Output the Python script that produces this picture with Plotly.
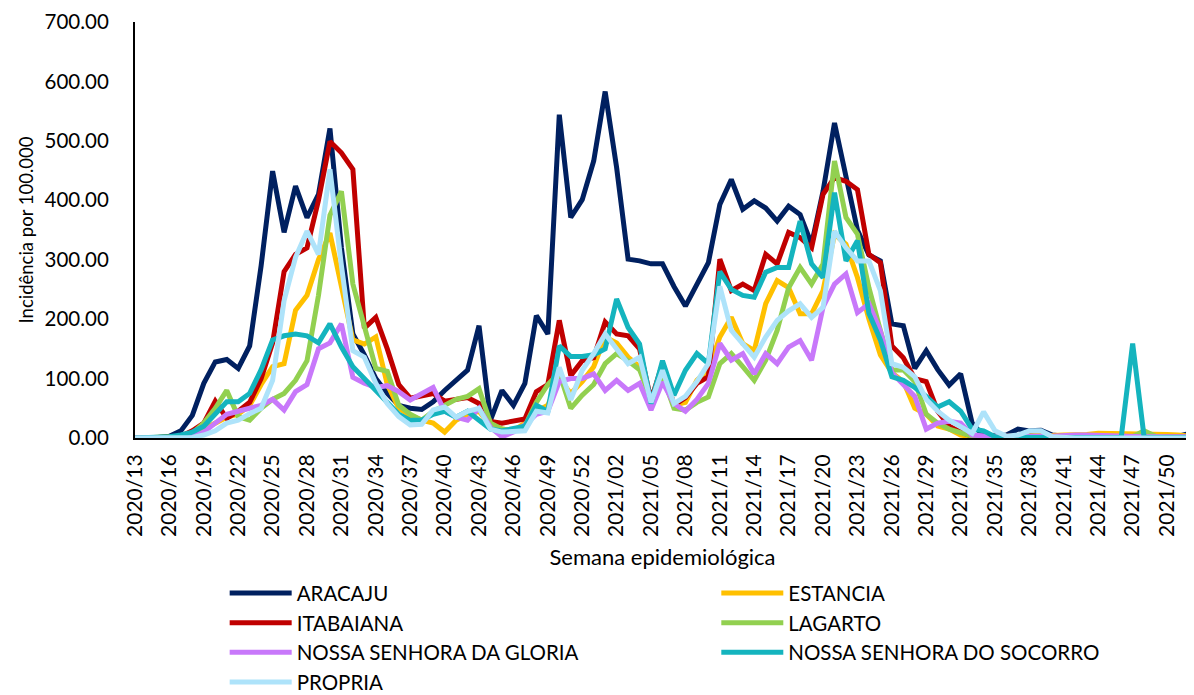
import plotly.graph_objects as go

# epidemiological weeks 2020/13 .. 2021/52
weeks = [f"2020/{w}" for w in range(13, 54)] + [f"2021/{w:02d}" for w in range(1, 53)]
tick_weeks = weeks[::3]

aracaju = [0, 0, 1, 3, 12, 38, 92, 128, 132, 117, 155, 290, 449, 346, 424, 371, 410, 521,
           320, 175, 140, 100, 75, 55, 50, 48, 61, 80, 97, 114, 189, 30, 80, 55, 92, 206,
           175, 544, 371, 401, 466, 583, 455, 301, 298, 293, 293, 255, 222, 258, 295, 393,
           435, 385, 399, 387, 365, 390, 376, 326, 415, 530, 438, 350, 308, 298, 192, 189,
           117, 147, 115, 89, 108, 25, 3, 3, 5, 15, 12, 13, 5, 3, 3, 3, 3, 3, 3, 3, 3, 3,
           3, 3, 8]
estancia = [0, 0, 0, 1, 2, 5, 15, 25, 35, 40, 55, 90, 120, 125, 215, 240, 300, 345,
            250, 165, 158, 170, 90, 50, 38, 30, 25, 10, 30, 40, 45, 20, 15, 12, 25, 45,
            55, 100, 75, 95, 120, 170, 160, 136, 120, 60, 120, 55, 60, 97, 115, 170,
            203, 159, 147, 226, 265, 253, 209, 209, 248, 343, 326, 270, 200, 140, 110, 95,
            50, 40, 20, 15, 5, 2, 2, 2, 3, 3, 4, 4, 4, 5, 5, 6, 8, 8, 8, 8, 8, 8,
            6, 5, 3]
itabaiana = [0, 0, 0, 1, 3, 12, 25, 62, 33, 45, 60, 100, 160, 280, 309, 320, 400, 499,
             480, 452, 185, 203, 150, 90, 67, 70, 75, 62, 65, 68, 58, 28, 25, 28, 32, 78,
             90, 198, 105, 130, 135, 195, 175, 172, 150, 64, 125, 55, 68, 92, 103, 301,
             248, 259, 248, 309, 293, 346, 337, 320, 410, 438, 432, 418, 309, 295, 155, 135,
             100, 95, 45, 20, 10, 3, 2, 3, 3, 3, 3, 3, 3, 3, 3, 3, 3, 3, 3, 3, 3, 3,
             3, 3, 2]
lagarto = [0, 0, 0, 0, 2, 8, 25, 50, 80, 36, 30, 50, 65, 75, 97, 130, 240, 375,
           415, 259, 186, 117, 112, 55, 40, 30, 45, 55, 65, 70, 83, 25, 15, 12, 20, 60,
           90, 110, 50, 72, 90, 125, 142, 130, 115, 65, 105, 50, 47, 60, 69, 125,
           142, 120, 97, 131, 181, 253, 287, 259, 293, 466, 371, 343, 253, 181, 114, 115,
           95, 40, 25, 15, 10, 3, 2, 2, 2, 2, 2, 2, 2, 2, 2, 2, 2, 2, 2, 2, 12, 3,
           2, 2, 2]
gloria = [0, 0, 0, 0, 1, 3, 10, 25, 40, 45, 50, 55, 65, 47, 78, 90, 150, 160,
          192, 102, 92, 85, 88, 78, 64, 75, 85, 45, 35, 30, 50, 18, 2, 10, 22, 40,
          45, 95, 100, 100, 108, 80, 97, 80, 92, 47, 94, 58, 45, 65, 92, 159,
          131, 142, 108, 142, 125, 153, 164, 131, 220, 259, 276, 211, 226, 180, 110, 90,
          70, 15, 25, 28, 25, 5, 3, 2, 2, 3, 3, 3, 3, 5, 5, 5, 4, 3, 3, 2, 2, 2,
          2, 2, 2]
socorro = [0, 0, 0, 2, 5, 10, 20, 40, 61, 61, 75, 115, 165, 172, 175, 172, 160, 192,
           153, 120, 100, 80, 60, 40, 30, 30, 40, 45, 35, 45, 30, 15, 12, 15, 20, 55,
           45, 155, 137, 137, 140, 150, 234, 186, 158, 58, 130, 72, 114, 142, 125, 280,
           250, 240, 237, 279, 287, 287, 365, 293, 270, 413, 298, 332, 210, 165, 103, 97,
           85, 70, 52, 61, 45, 15, 12, 2, 1, 1, 1, 1, 1, 1, 1, 1, 1, 1, 1, 159, 1, 1,
           1, 1, 1]
propria = [0, 0, 0, 0, 0, 1, 5, 12, 25, 30, 41, 50, 97, 231, 304, 348, 309, 452,
           290, 147, 136, 92, 58, 36, 22, 23, 47, 52, 35, 45, 50, 15, 10, 10, 12, 45,
           42, 119, 64, 114, 142, 175, 150, 125, 136, 60, 114, 58, 70, 95, 125, 255,
           181, 159, 136, 170, 198, 214, 226, 203, 220, 348, 320, 298, 298, 248, 125, 119,
           103, 65, 45, 30, 18, 8, 44, 12, 3, 5, 12, 12, 2, 0, 0, 0, 0, 0, 0, 0, 0, 0,
           0, 0, 0]

# (name, values, colour, legend column)
SERIES = [
    ("ARACAJU", aracaju, "#002060", "legend"),
    ("ESTANCIA", estancia, "#FFC000", "legend2"),
    ("ITABAIANA", itabaiana, "#C00000", "legend"),
    ("LAGARTO", lagarto, "#92D050", "legend2"),
    ("NOSSA SENHORA DA GLORIA", gloria, "#C878FA", "legend"),
    ("NOSSA SENHORA DO SOCORRO", socorro, "#14B4BE", "legend2"),
    ("PROPRIA", propria, "#AEE3FA", "legend"),
]

FONT = "Lato, Calibri, sans-serif"

fig = go.Figure()
for name, values, color, leg in SERIES:
    fig.add_trace(go.Scatter(
        x=weeks, y=values, mode="lines", name=name, legend=leg,
        line=dict(color=color, width=5),
    ))

legend_style = dict(
    orientation="v", yanchor="top", xanchor="left", y=-0.325,
    itemwidth=62, font=dict(size=20.5), bgcolor="rgba(0,0,0,0)",
)
# the page body adds an 8px offset, so the figure is laid out 8px up/left
fig.update_layout(
    width=1194, height=695,
    margin=dict(l=127, r=12, t=14, b=265, autoexpand=False),
    plot_bgcolor="white", paper_bgcolor="white",
    font=dict(family=FONT, size=20, color="black"),
    showlegend=True,
    legend=dict(x=0.085, **legend_style),
    legend2=dict(x=0.551, **legend_style),
)
fig.update_xaxes(
    type="category", range=[0, len(weeks) - 1], automargin=False,
    tickmode="array", tickvals=tick_weeks, ticktext=tick_weeks,
    tickangle=-90, tickfont=dict(size=21), ticklabelstandoff=6,
    ticklabeloverflow="allow",
    showgrid=False, showline=True, linecolor="black", linewidth=2,
    ticks="", title=dict(text="Semana epidemiológica", font=dict(size=22), standoff=14),
)
fig.update_yaxes(
    range=[0, 700], tickmode="linear", tick0=0, dtick=100, tickformat=".2f",
    automargin=False, tickfont=dict(size=20.5), ticklabelstandoff=20,
    ticklabeloverflow="allow",
    showgrid=False, zeroline=False,
    showline=True, linecolor="black", linewidth=2, ticks="",
    title=dict(text="Incidência por 100.000", font=dict(size=18.5), standoff=6),
)

fig.write_html("out.html")
